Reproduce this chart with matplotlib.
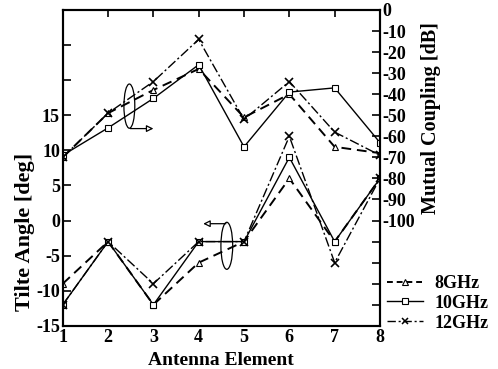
import matplotlib
matplotlib.use("Agg")
import matplotlib.pyplot as plt
from matplotlib.patches import Ellipse
from matplotlib.lines import Line2D

plt.rcParams["font.family"] = "Liberation Serif"
plt.rcParams["font.weight"] = "bold"

# --- data ---
elements = [1, 2, 3, 4, 5, 6, 7, 8]

# tilt angle [deg] (left axis)
tilt_8 = [-9, -3, -12, -6, -3, 6, -3, 6]
tilt_10 = [-12, -3, -12, -3, -3, 9, -3, 6]
tilt_12 = [-12, -3, -9, -3, -3, 12, -6, 6]

# mutual coupling [dB] (right axis)
mc_8 = [-70, -49, -38, -28, -51, -40, -65, -68]
mc_10 = [-69, -56, -42, -26, -65, -39, -37, -63]
mc_12 = [-70, -49, -34, -14, -52, -34, -58, -69]

left_ticks = [-15, -10, -5, 0, 5, 10, 15, 20, 25, 30]
left_labels = ["-15", "-10", "-5", "0", "5", "10", "15", "", "", ""]
right_ticks = [0, -10, -20, -30, -40, -50, -60, -70, -80, -90, -100,
               -110, -120, -130, -140, -150]
right_labels = ["0", "-10", "-20", "-30", "-40", "-50", "-60", "-70", "-80",
                "-90", "-100", "", "", "", "", ""]
legend_names = ["8GHz", "10GHz", "12GHz"]

fig = plt.figure(figsize=(4.98, 3.69), dpi=100)
ax = fig.add_axes([0.126, 0.117, 0.637, 0.856])
ax2 = ax.twinx()

# styles: 8GHz dashed/triangle, 10GHz solid/square, 12GHz dash-dot/x
st8 = dict(color="k", ls=(0, (5, 3)), lw=1.4, marker="^", ms=5, mfc="white", mew=0.8)
st10 = dict(color="k", ls="-", lw=1.0, marker="s", ms=5, mfc="white", mew=0.8)
st12 = dict(color="k", ls=(0, (7, 2, 1.5, 2)), lw=1.0, marker="x", ms=6, mew=1.2)

ax.plot(elements, tilt_8, **st8)
ax.plot(elements, tilt_10, **st10)
ax.plot(elements, tilt_12, **st12)

ax2.plot(elements, mc_8, **st8)
ax2.plot(elements, mc_10, **st10)
ax2.plot(elements, mc_12, **st12)

ax.set_xlim(1, 8)
ax.set_ylim(-15, 30)
ax2.set_ylim(-150, 0)

ax.set_xticks(elements)
ax.set_yticks(left_ticks)
ax.set_yticklabels(left_labels)
ax2.set_yticks(right_ticks)
ax2.set_yticklabels(right_labels)

ax.tick_params(axis="x", direction="in", top=True, bottom=False, length=5,
               width=1.2, labelsize=13, pad=2)
ax.tick_params(axis="y", direction="in", length=6, width=1.2, labelsize=13, pad=2)
ax2.tick_params(axis="y", direction="in", length=6, width=1.2, labelsize=13, pad=2)
for a in (ax, ax2):
    for s in a.spines.values():
        s.set_linewidth(1.5)

ax.set_xlabel("Antenna Element", fontsize=14, fontweight="bold", labelpad=4.5)
ax.text(-0.118, 0.297, "Tilte Angle [deg]", transform=ax.transAxes, rotation=90,
        ha="center", va="center", fontsize=16, fontweight="bold")
ax2.text(1.16, 0.658, "Mutual Coupling [dB]", transform=ax.transAxes, rotation=90,
         ha="center", va="center", fontsize=14.5, fontweight="bold")

# ellipses with arrows pointing to the matching axis
ax.add_patch(Ellipse((2.47, 16.3), 0.24, 6.3, fill=False, ec="k", lw=0.9))
ax.annotate("", xy=(3.0, 13.1), xytext=(2.49, 13.1),
            arrowprops=dict(arrowstyle="-|>", fc="white", ec="k", lw=0.9,
                            shrinkA=0, shrinkB=0, mutation_scale=10))
ax.add_patch(Ellipse((4.62, -3.6), 0.26, 6.7, fill=False, ec="k", lw=0.9))
ax.annotate("", xy=(4.1, -0.45), xytext=(4.6, -0.45),
            arrowprops=dict(arrowstyle="-|>", fc="white", ec="k", lw=0.9,
                            shrinkA=0, shrinkB=0, mutation_scale=10))

handles = [
    Line2D([], [], color="k", ls=(0, (3, 2)), lw=1.4, marker="^", ms=4, mfc="white", mew=0.8),
    Line2D([], [], color="k", ls="-", lw=1.0, marker="s", ms=4, mfc="white", mew=0.8),
    Line2D([], [], color="k", ls=(0, (6, 2, 1.5, 2)), lw=1.0, marker="x", ms=5, mew=1.1),
]
fig.legend(handles, legend_names, loc="center left", bbox_to_anchor=(0.756, 0.178),
           frameon=False, handlelength=2.0, handletextpad=0.6, labelspacing=0.15,
           borderpad=0.1, prop=dict(size=13, weight="bold"))

fig.savefig("out.png", dpi=100)
